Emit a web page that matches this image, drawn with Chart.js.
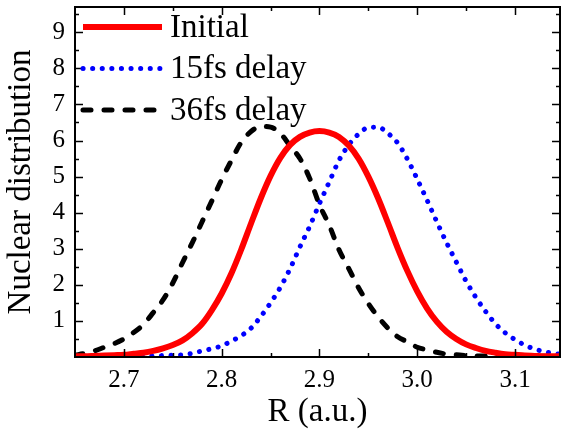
<!DOCTYPE html>
<html>
<head>
<meta charset="utf-8">
<script src="https://cdn.jsdelivr.net/npm/chart.js@4.4.1/dist/chart.umd.min.js"></script>
<style>
  html, body { margin: 0; padding: 0; background: #fff; }
</style>
</head>
<body>
<canvas id="chart" width="565" height="432"></canvas>
<script>
// R grid (a.u.)
const rValues = [
  2.65, 2.66, 2.67, 2.68, 2.69, 2.70, 2.71, 2.72, 2.73, 2.74,
  2.75, 2.76, 2.77, 2.78, 2.79, 2.80, 2.81, 2.82, 2.83, 2.84,
  2.85, 2.86, 2.87, 2.88, 2.89, 2.90, 2.91, 2.92, 2.93, 2.94,
  2.95, 2.96, 2.97, 2.98, 2.99, 3.00, 3.01, 3.02, 3.03, 3.04,
  3.05, 3.06, 3.07, 3.08, 3.09, 3.10, 3.11, 3.12, 3.13, 3.14, 3.15
];

const initial = [
  0.02, 0.02, 0.03, 0.04, 0.05, 0.06, 0.09, 0.12, 0.17, 0.24,
  0.33, 0.46, 0.66, 0.92, 1.30, 1.76, 2.32, 2.98, 3.70, 4.40,
  5.02, 5.52, 5.88, 6.10, 6.22, 6.26, 6.22, 6.10, 5.86, 5.50,
  5.00, 4.40, 3.72, 3.02, 2.38, 1.82, 1.35, 0.98, 0.70, 0.50,
  0.35, 0.25, 0.17, 0.12, 0.08, 0.06, 0.04, 0.03, 0.02, 0.02, 0.02
];

const delay15 = [
  0.01, 0.01, 0.01, 0.01, 0.02, 0.02, 0.02, 0.03, 0.03, 0.04,
  0.05, 0.06, 0.10, 0.17, 0.23, 0.31, 0.44, 0.59, 0.80, 1.12,
  1.50, 1.93, 2.45, 3.05, 3.62, 4.25, 4.85, 5.45, 5.88, 6.18,
  6.36, 6.37, 6.20, 5.93, 5.48, 4.93, 4.35, 3.75, 3.17, 2.63,
  2.10, 1.65, 1.26, 0.92, 0.67, 0.48, 0.33, 0.22, 0.15, 0.10, 0.06
];

const delay36 = [
  0.05, 0.10, 0.17, 0.27, 0.37, 0.50, 0.68, 0.90, 1.23, 1.58,
  2.05, 2.62, 3.17, 3.75, 4.33, 4.92, 5.45, 5.95, 6.25, 6.39,
  6.37, 6.20, 5.85, 5.50, 4.95, 4.22, 3.65, 2.97, 2.45, 1.92,
  1.48, 1.11, 0.80, 0.56, 0.42, 0.27, 0.20, 0.13, 0.08, 0.06,
  0.04, 0.03, 0.03, 0.03, 0.03, 0.02, 0.02, 0.02, 0.02, 0.02, 0.02
];

const seriesLabels = ['Initial', '15fs delay', '36fs delay'];

const xTickValues = [2.7, 2.8, 2.9, 3.0, 3.1];
const xMinorValues = [2.75, 2.85, 2.95, 3.05];
const yTickValues = [1, 2, 3, 4, 5, 6, 7, 8, 9];
const yMinorValues = [0.5, 1.5, 2.5, 3.5, 4.5, 5.5, 6.5, 7.5, 8.5, 9.5];

const serif = '"Liberation Serif", "Times New Roman", serif';

function toPoints(ys) {
  return rValues.map((r, i) => ({ x: r, y: ys[i] }));
}

function noPad(s) {
  s.paddingTop = 0;
  s.paddingBottom = 0;
  s.paddingLeft = 0;
  s.paddingRight = 0;
}

// box round the plot with inward ticks on all four sides
const framePlugin = {
  id: 'frame',
  afterDatasetsDraw(chart) {
    const { ctx, chartArea: a, scales } = chart;
    const x = scales.x, y = scales.y;
    ctx.save();
    ctx.strokeStyle = '#000';
    ctx.lineWidth = 1.5;
    const line = (x1, y1, x2, y2) => {
      ctx.beginPath();
      ctx.moveTo(x1, y1);
      ctx.lineTo(x2, y2);
      ctx.stroke();
    };
    const xt = (v, len) => {
      const p = Math.round(x.getPixelForValue(v)) + 0.5;
      line(p, a.bottom, p, a.bottom - len);
      line(p, a.top, p, a.top + len);
    };
    const yt = (v, len) => {
      const p = Math.round(y.getPixelForValue(v)) + 0.5;
      line(a.left, p, a.left + len, p);
      line(a.right, p, a.right - len, p);
    };
    xTickValues.forEach(v => xt(v, 8));
    xMinorValues.forEach(v => xt(v, 4));
    yTickValues.forEach(v => yt(v, 8));
    yMinorValues.forEach(v => yt(v, 4));
    ctx.lineWidth = 2;
    ctx.strokeRect(a.left, a.top, a.right - a.left, a.bottom - a.top);
    ctx.restore();
  }
};

// legend sits inside the top-left corner of the plot
const legendPlugin = {
  id: 'insideLegend',
  afterDraw(chart) {
    const { ctx, chartArea: a } = chart;
    ctx.save();
    chart.data.datasets.forEach((ds, i) => {
      const yy = a.top + 20 + i * 41.5;
      ctx.beginPath();
      ctx.strokeStyle = ds.borderColor;
      ctx.lineWidth = ds.borderWidth;
      ctx.lineCap = ds.borderCapStyle || 'butt';
      ctx.setLineDash(ds.borderDash || []);
      ctx.moveTo(a.left + 8, yy);
      ctx.lineTo(a.left + 87, yy);
      ctx.stroke();
      ctx.setLineDash([]);
      ctx.fillStyle = '#000';
      ctx.font = '33px ' + serif;
      ctx.textBaseline = 'middle';
      ctx.textAlign = 'left';
      ctx.fillText(ds.label, a.left + 95, yy + 1);
    });
    ctx.restore();
  }
};

new Chart(document.getElementById('chart'), {
  type: 'line',
  data: {
    datasets: [
      {
        label: seriesLabels[0],
        data: toPoints(initial),
        borderColor: '#ff0000',
        borderWidth: 6,
        borderCapStyle: 'butt',
        pointRadius: 0,
        cubicInterpolationMode: 'monotone'
      },
      {
        label: seriesLabels[1],
        data: toPoints(delay15),
        borderColor: '#0000ff',
        borderWidth: 5,
        borderDash: [0.1, 9.5],
        borderCapStyle: 'round',
        pointRadius: 0,
        cubicInterpolationMode: 'monotone'
      },
      {
        label: seriesLabels[2],
        data: toPoints(delay36),
        borderColor: '#000000',
        borderWidth: 5,
        borderDash: [8, 13],
        borderCapStyle: 'round',
        pointRadius: 0,
        cubicInterpolationMode: 'monotone'
      }
    ]
  },
  options: {
    responsive: false,
    animation: false,
    layout: { padding: { top: 7, right: 5, left: 0, bottom: 0 } },
    plugins: {
      legend: { display: false },
      tooltip: { enabled: false }
    },
    scales: {
      x: {
        type: 'linear',
        min: 2.65,
        max: 3.146,
        afterBuildTicks: s => { s.ticks = xTickValues.map(v => ({ value: v })); },
        afterFit: s => { s.height = 75; noPad(s); },
        grid: { display: false },
        border: { display: false },
        ticks: {
          color: '#000',
          font: { family: serif, size: 25 },
          padding: 0,
          maxRotation: 0,
          callback: v => v.toFixed(1)
        },
        title: {
          display: true,
          text: 'R (a.u.)',
          color: '#000',
          font: { family: serif, size: 33 },
          padding: { top: 0, bottom: 0 }
        }
      },
      y: {
        min: 0,
        max: 9.7,
        afterBuildTicks: s => { s.ticks = yTickValues.map(v => ({ value: v })); },
        afterFit: s => { s.width = 75; noPad(s); },
        grid: { display: false },
        border: { display: false },
        ticks: {
          color: '#000',
          font: { family: serif, size: 25 },
          padding: 2
        },
        title: {
          display: true,
          text: 'Nuclear distribution',
          color: '#000',
          font: { family: serif, size: 33 },
          padding: { top: 2, bottom: 0 }
        }
      }
    }
  },
  plugins: [framePlugin, legendPlugin]
});
</script>
</body>
</html>
